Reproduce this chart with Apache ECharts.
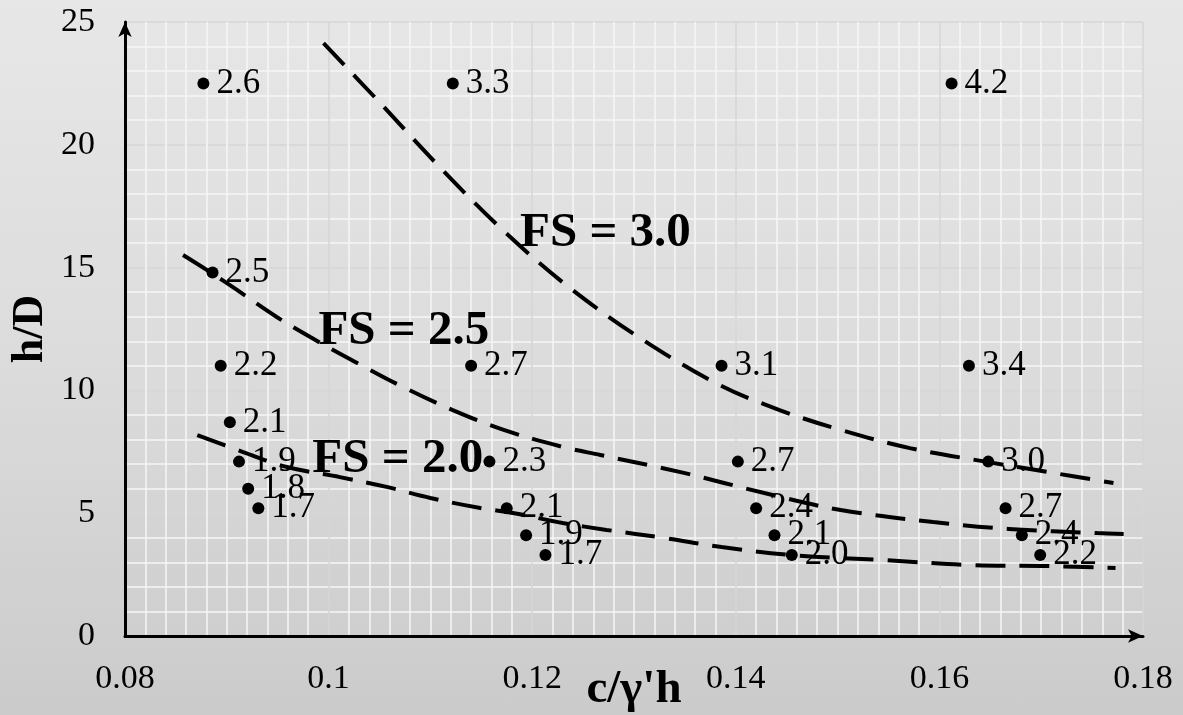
<!DOCTYPE html>
<html>
<head>
<meta charset="utf-8">
<script src="https://cdn.jsdelivr.net/npm/echarts@6/dist/echarts.min.js"></script>
<style>
  html, body { margin: 0; padding: 0; }
  #chart {
    width: 1183px; height: 715px;
    background: linear-gradient(to bottom, #e7e7e7 0%, #dcdcdc 50%, #cbcbcb 100%);
  }
</style>
</head>
<body>
<div id="chart"></div>
<script>
// Observed cases: c/γ'h, h/D and computed factor of safety
const pointX = [0.0877, 0.1122, 0.1612, 0.0886, 0.0894, 0.1140, 0.1386, 0.1629,
                0.0903, 0.0912, 0.0921, 0.0931, 0.1158, 0.1175, 0.1194, 0.1213,
                0.1402, 0.1420, 0.1438, 0.1455, 0.1648, 0.1665, 0.1681, 0.1699];
const pointY = [22.5, 22.5, 22.5, 14.8, 11, 11, 11, 11,
                8.7, 7.1, 6.0, 5.2, 7.1, 5.2, 4.1, 3.3,
                7.1, 5.2, 4.1, 3.3, 7.1, 5.2, 4.1, 3.3];
const pointFS = ['2.6', '3.3', '4.2', '2.5', '2.2', '2.7', '3.1', '3.4',
                 '2.1', '1.9', '1.8', '1.7', '2.3', '2.1', '1.9', '1.7',
                 '2.7', '2.4', '2.1', '2.0', '3.0', '2.7', '2.4', '2.2'];

// Constant factor-of-safety contours
const curveFS30 = [[0.0995, 24.14], [0.1048, 21.82], [0.1109, 19.10], [0.1171, 16.53],
                   [0.1237, 14.17], [0.1309, 12.05], [0.1384, 10.22], [0.1443, 9.20],
                   [0.1503, 8.39], [0.1571, 7.65], [0.1648, 7.08], [0.1706, 6.68],
                   [0.1771, 6.23]];
const curveFS25 = [[0.0857, 15.51], [0.0885, 14.78], [0.0910, 14.09], [0.0949, 12.99],
                   [0.0982, 12.17], [0.1028, 11.12], [0.1073, 10.14], [0.1122, 9.20],
                   [0.1172, 8.39], [0.1230, 7.70], [0.1267, 7.37], [0.1349, 6.64],
                   [0.1428, 5.82], [0.1503, 5.13], [0.1594, 4.64], [0.1668, 4.36],
                   [0.1755, 4.19], [0.1781, 4.15]];
const curveFS20 = [[0.0871, 8.18], [0.0916, 7.49], [0.0959, 6.88], [0.1011, 6.47],
                   [0.1057, 6.07], [0.1100, 5.62], [0.1149, 5.21], [0.1181, 5.01],
                   [0.1230, 4.60], [0.1273, 4.32], [0.1330, 3.99], [0.1386, 3.62],
                   [0.1454, 3.30], [0.1545, 3.09], [0.1631, 2.89], [0.1706, 2.85],
                   [0.1773, 2.77]];

// Contour captions (left edge, vertical centre)
const captionText = ['FS = 3.0', 'FS = 2.5', 'FS = 2.0'];
const captionPos = [[0.1188, 16.4], [0.0990, 12.4], [0.0984, 7.2]];

const serif = '"Liberation Serif", "Times New Roman", serif';

const chart = echarts.init(document.getElementById('chart'), null, { renderer: 'canvas' });

const dashStyle = { color: '#000', width: 4, type: [30, 14] };

function curveSeries(data) {
  return {
    type: 'line', data: data, smooth: 0.35, showSymbol: false, symbol: 'none',
    lineStyle: dashStyle, z: 4, silent: true
  };
}

chart.setOption({
  backgroundColor: 'transparent',
  animation: false,
  grid: { left: 125, right: 40, top: 22, bottom: 79, containLabel: false, outerBoundsMode: 'none' },
  xAxis: {
    type: 'value', min: 0.08, max: 0.18, interval: 0.02,
    name: "c/γ'h", nameLocation: 'middle', nameGap: 30, nameMoveOverlap: false,
    nameTextStyle: { fontFamily: serif, fontWeight: 'bold', fontSize: 47, color: '#000' },
    axisLine: { show: true, onZero: false, symbol: ['none', 'arrow'], symbolSize: [10, 15],
                lineStyle: { color: '#000', width: 3 } },
    axisTick: { show: false },
    axisLabel: { fontFamily: serif, fontSize: 34, color: '#000', margin: 26,
                 formatter: v => String(parseFloat(v.toFixed(3))) },
    splitLine: { show: true, lineStyle: { color: '#d6d6d6', width: 1.5 } },
    minorTick: { show: false, splitNumber: 10 },
    minorSplitLine: { show: true, lineStyle: { color: '#f6f6f6', width: 1.5 } }
  },
  yAxis: {
    type: 'value', min: 0, max: 25, interval: 5,
    name: 'h/D', nameLocation: 'middle', nameGap: 72, nameRotate: 90, nameMoveOverlap: false,
    nameTextStyle: { fontFamily: serif, fontWeight: 'bold', fontSize: 44, color: '#000' },
    axisLine: { show: true, onZero: false, symbol: ['none', 'arrow'], symbolSize: [10, 15],
                lineStyle: { color: '#000', width: 3 } },
    axisTick: { show: false },
    axisLabel: { fontFamily: serif, fontSize: 34, color: '#000', margin: 30 },
    splitLine: { show: true, lineStyle: { color: '#d6d6d6', width: 1.5 } },
    minorTick: { show: false, splitNumber: 5 },
    minorSplitLine: { show: true, lineStyle: { color: '#f6f6f6', width: 1.5 } }
  },
  series: [
    {
      type: 'scatter', z: 3,
      data: pointX.map((x, i) => [x, pointY[i]]),
      symbol: 'circle', symbolSize: 12,
      itemStyle: { color: '#000', opacity: 1 },
      label: {
        show: true, position: 'right', distance: 7,
        fontFamily: serif, fontSize: 35, color: '#000', opacity: 1,
        formatter: p => pointFS[p.dataIndex]
      }
    },
    curveSeries(curveFS30),
    curveSeries(curveFS25),
    curveSeries(curveFS20),
    {
      type: 'scatter', z: 5, silent: true,
      data: captionPos, symbolSize: 0,
      itemStyle: { opacity: 1 },
      label: {
        show: true, position: 'inside', align: 'left', verticalAlign: 'middle',
        fontFamily: serif, fontWeight: 'bold', fontSize: 49, color: '#000', opacity: 1,
        formatter: p => captionText[p.dataIndex]
      }
    }
  ]
});
</script>
</body>
</html>
